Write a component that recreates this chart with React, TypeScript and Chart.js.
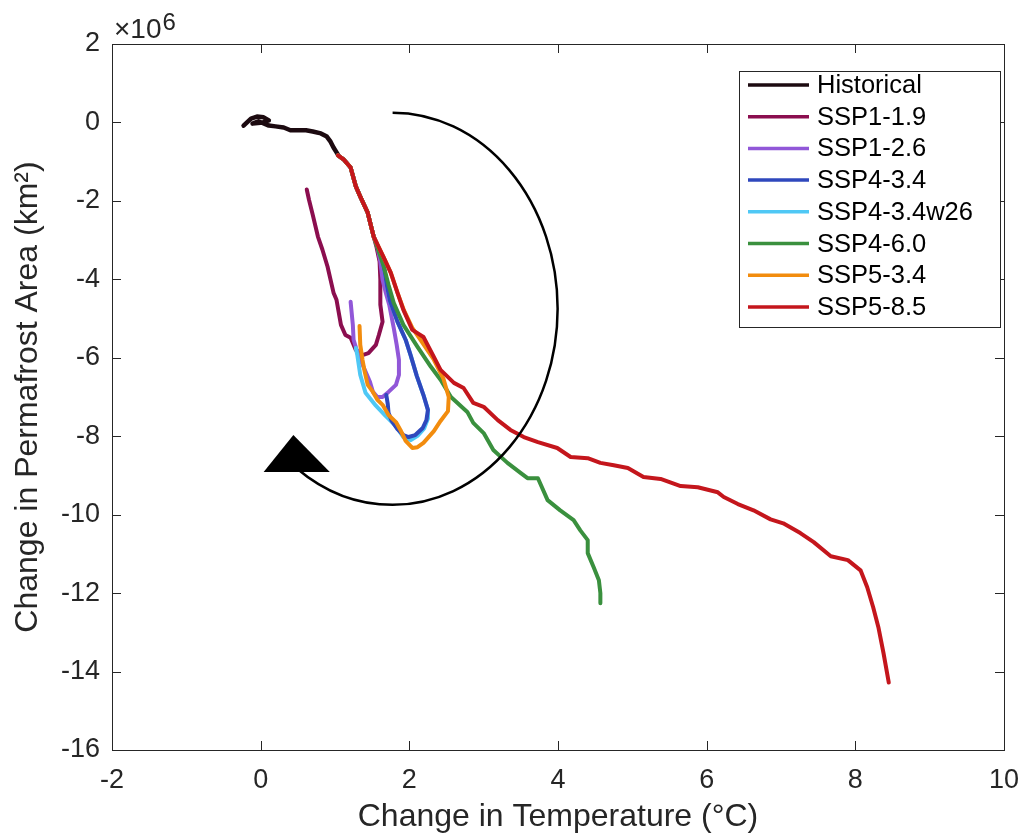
import React, { useEffect, useRef } from "react";
import { Chart, registerables } from "chart.js";

Chart.register(...registerables);

// ---------- Data (x: change in temperature °C, y: change in permafrost area ×10^6 km²) ----------
const seriesNames = [
  "Historical",
  "SSP1-1.9",
  "SSP1-2.6",
  "SSP4-3.4",
  "SSP4-3.4w26",
  "SSP4-6.0",
  "SSP5-3.4",
  "SSP5-8.5",
];
const seriesColors = [
  "#1c0a10",
  "#8b0e4f",
  "#9157d8",
  "#2f48bd",
  "#4fc8f5",
  "#3a903e",
  "#f28c0e",
  "#c4161c",
];

const historicalT = [-0.23, -0.13, -0.05, 0.04, 0.11, 0.03, -0.11, -0.03, 0.11, 0.2, 0.31, 0.4, 0.51, 0.61, 0.7, 0.81, 0.89, 0.94, 0.98, 1.04];
const historicalA = [-0.08, 0.1, 0.15, 0.13, 0.05, 0.0, -0.03, 0.03, -0.08, -0.1, -0.13, -0.2, -0.2, -0.2, -0.23, -0.28, -0.36, -0.49, -0.64, -0.82];

// common early part of every scenario (starts where Historical ends)
const commonT = [1.04, 1.12, 1.21, 1.28, 1.34, 1.44, 1.52];
const commonA = [-0.84, -0.95, -1.15, -1.63, -1.89, -2.3, -2.91];

const ssp119T = [1.56, 1.6, 1.61, 1.61, 1.64, 1.59, 1.55, 1.45, 1.37, 1.28, 1.21, 1.14, 1.08, 1.02, 0.98, 0.9, 0.83, 0.77, 0.7, 0.65, 0.62];
const ssp119A = [-3.19, -3.55, -4.01, -4.65, -5.08, -5.42, -5.67, -5.88, -5.93, -5.8, -5.49, -5.42, -5.16, -4.52, -4.34, -3.68, -3.24, -2.91, -2.35, -1.97, -1.71];

const ssp126T = [1.57, 1.61, 1.64, 1.68, 1.73, 1.79, 1.83, 1.86, 1.86, 1.82, 1.72, 1.64, 1.57, 1.51, 1.47, 1.39, 1.3, 1.25, 1.24, 1.21];
const ssp126A = [-3.17, -3.55, -4.01, -4.32, -4.65, -5.24, -5.67, -6.05, -6.44, -6.69, -6.87, -7.0, -7.0, -6.87, -6.61, -6.26, -5.85, -5.54, -5.16, -4.57];

const ssp434T = [1.57, 1.63, 1.67, 1.7, 1.74, 1.84, 1.95, 2.02, 2.1, 2.19, 2.25, 2.23, 2.18, 2.08, 1.99, 1.92, 1.84, 1.76, 1.72, 1.71, 1.69];
const ssp434A = [-3.12, -3.45, -3.81, -4.17, -4.55, -5.08, -5.54, -5.95, -6.46, -6.95, -7.33, -7.59, -7.79, -7.97, -8.02, -7.97, -7.82, -7.6, -7.4, -7.18, -6.95];

const ssp434w26T = [1.57, 1.63, 1.67, 1.7, 1.74, 1.84, 1.95, 2.02, 2.1, 2.19, 2.25, 2.25, 2.2, 2.11, 2.02, 1.92, 1.82, 1.68, 1.55, 1.41, 1.34, 1.3, 1.28];
const ssp434w26A = [-3.12, -3.45, -3.81, -4.17, -4.55, -5.08, -5.54, -5.95, -6.46, -6.95, -7.33, -7.55, -7.8, -7.99, -8.1, -8.02, -7.74, -7.48, -7.22, -6.89, -6.44, -5.93, -5.75];

const ssp460T = [1.65, 1.72, 1.79, 1.92, 2.11, 2.29, 2.42, 2.56, 2.78, 2.86, 3.0, 3.13, 3.32, 3.5, 3.59, 3.73, 3.86, 4.03, 4.21, 4.3, 4.4, 4.4, 4.48, 4.55, 4.57, 4.57];
const ssp460A = [-3.63, -4.14, -4.6, -5.16, -5.72, -6.23, -6.56, -7.0, -7.38, -7.66, -7.92, -8.35, -8.68, -8.94, -9.07, -9.07, -9.63, -9.89, -10.14, -10.4, -10.65, -10.98, -11.34, -11.67, -12.0, -12.26];

const ssp534T = [1.65, 1.75, 1.84, 1.93, 2.04, 2.15, 2.33, 2.46, 2.53, 2.52, 2.42, 2.33, 2.19, 2.11, 2.04, 1.95, 1.88, 1.82, 1.72, 1.64, 1.57, 1.51, 1.44, 1.4, 1.37, 1.34, 1.33];
const ssp534A = [-3.42, -3.83, -4.34, -4.8, -5.24, -5.54, -6.05, -6.54, -7.0, -7.36, -7.61, -7.87, -8.17, -8.28, -8.3, -8.12, -7.84, -7.64, -7.46, -7.2, -7.07, -6.87, -6.69, -6.36, -6.05, -5.67, -5.19];

const ssp585T = [1.65, 1.75, 1.84, 1.92, 2.04, 2.19, 2.33, 2.42, 2.6, 2.73, 2.86, 3.0, 3.19, 3.36, 3.54, 3.73, 3.99, 4.17, 4.4, 4.57, 4.75, 4.94, 5.15, 5.38, 5.65, 5.88, 6.15, 6.23, 6.42, 6.63, 6.86, 7.03, 7.26, 7.44, 7.67, 7.9, 8.07, 8.16, 8.24, 8.31, 8.38, 8.45];
const ssp585A = [-3.42, -3.83, -4.34, -4.78, -5.29, -5.47, -5.98, -6.31, -6.64, -6.77, -7.15, -7.25, -7.59, -7.84, -8.02, -8.15, -8.3, -8.53, -8.56, -8.68, -8.74, -8.81, -9.04, -9.09, -9.27, -9.3, -9.43, -9.55, -9.73, -9.89, -10.12, -10.22, -10.47, -10.7, -11.06, -11.16, -11.42, -11.85, -12.36, -12.87, -13.54, -14.28];

const xTicks = [-2, 0, 2, 4, 6, 8, 10];
const yTicks = [-16, -14, -12, -10, -8, -6, -4, -2, 0, 2];
const xLabel = "Change in Temperature (°C)";
const yLabel = "Change in Permafrost Area (km²)";

// circular arrow annotation (in data units)
const arcCenter = [1.775, -4.75];
const arcRadii = [2.22, 5.0];
const arcAngles = [-90, 125.6];
const arrowHead = [
  [0.04, -8.91],
  [0.93, -8.91],
  [0.44, -7.97],
];

// drawing rank (higher = on top)
const drawRank = [0, 1, 2, 4, 3, 5, 6, 7];

const FONT = "'Liberation Sans', Arial, Helvetica, sans-serif";
const AXIS_COLOR = "#262626";

function pts(t: number[], a: number[]) {
  return t.map((v, i) => ({ x: v, y: a[i] }));
}

const seriesPoints = [
  pts(historicalT, historicalA),
  pts([...commonT, ...ssp119T], [...commonA, ...ssp119A]),
  pts([...commonT, ...ssp126T], [...commonA, ...ssp126A]),
  pts([...commonT, ...ssp434T], [...commonA, ...ssp434A]),
  pts([...commonT, ...ssp434w26T], [...commonA, ...ssp434w26A]),
  pts([...commonT, ...ssp460T], [...commonA, ...ssp460A]),
  pts([...commonT, ...ssp534T], [...commonA, ...ssp534A]),
  pts([...commonT, ...ssp585T], [...commonA, ...ssp585A]),
];

const overlayPlugin = {
  id: "overlay",
  afterDatasetsDraw(chart: any) {
    const { ctx, scales } = chart;
    const x = scales.x;
    const y = scales.y;
    const cx = x.getPixelForValue(arcCenter[0]);
    const cy = y.getPixelForValue(arcCenter[1]);
    const rx = x.getPixelForValue(arcCenter[0] + arcRadii[0]) - cx;
    const ry = y.getPixelForValue(arcCenter[1] - arcRadii[1]) - cy;
    ctx.save();
    ctx.beginPath();
    ctx.ellipse(cx, cy, rx, ry, 0, (arcAngles[0] * Math.PI) / 180, (arcAngles[1] * Math.PI) / 180, false);
    ctx.lineWidth = 2.5;
    ctx.strokeStyle = "#000";
    ctx.stroke();
    ctx.beginPath();
    arrowHead.forEach(([t, a], i) => {
      const px = x.getPixelForValue(t);
      const py = y.getPixelForValue(a);
      if (i === 0) ctx.moveTo(px, py);
      else ctx.lineTo(px, py);
    });
    ctx.closePath();
    ctx.fillStyle = "#000";
    ctx.fill();
    ctx.restore();
  },
  afterDraw(chart: any) {
    const { ctx, chartArea, scales } = chart;
    const { left, right, top, bottom } = chartArea;
    const x = scales.x;
    const y = scales.y;
    ctx.save();
    // box
    ctx.strokeStyle = AXIS_COLOR;
    ctx.lineWidth = 1;
    ctx.strokeRect(Math.round(left) + 0.5, Math.round(top) + 0.5, Math.round(right - left), Math.round(bottom - top));
    // inward ticks
    const tl = 9;
    ctx.beginPath();
    xTicks.forEach((v) => {
      const px = Math.round(x.getPixelForValue(v)) + 0.5;
      ctx.moveTo(px, bottom);
      ctx.lineTo(px, bottom - tl);
      ctx.moveTo(px, top);
      ctx.lineTo(px, top + tl);
    });
    yTicks.forEach((v) => {
      const py = Math.round(y.getPixelForValue(v)) + 0.5;
      ctx.moveTo(left, py);
      ctx.lineTo(left + tl, py);
      ctx.moveTo(right, py);
      ctx.lineTo(right - tl, py);
    });
    ctx.stroke();

    // exponent label
    ctx.fillStyle = AXIS_COLOR;
    ctx.textBaseline = "alphabetic";
    ctx.textAlign = "left";
    ctx.font = `28px ${FONT}`;
    ctx.fillText("×10", left + 2, top - 6);
    const w = ctx.measureText("×10").width;
    ctx.font = `24px ${FONT}`;
    ctx.fillText("6", left + 2 + w + 1, top - 14);

    // legend
    const lx0 = right - 265;
    const ly0 = top + 27;
    const lw = 261;
    const lh = 256;
    ctx.fillStyle = "#fff";
    ctx.fillRect(lx0, ly0, lw, lh);
    ctx.strokeStyle = AXIS_COLOR;
    ctx.lineWidth = 1;
    ctx.strokeRect(Math.round(lx0) + 0.5, Math.round(ly0) + 0.5, lw, lh);
    ctx.font = `25.5px ${FONT}`;
    ctx.textBaseline = "middle";
    chart.data.datasets.forEach((ds: any, i: number) => {
      const cyRow = ly0 + 14 + i * 31.7;
      ctx.beginPath();
      ctx.moveTo(lx0 + 9, cyRow);
      ctx.lineTo(lx0 + 70, cyRow);
      ctx.strokeStyle = ds.borderColor;
      ctx.lineWidth = 3.5;
      ctx.stroke();
      ctx.fillStyle = "#000";
      ctx.fillText(ds.label, lx0 + 78, cyRow + 1);
    });
    ctx.restore();
  },
};

export default function App() {
  const canvasRef = useRef<HTMLCanvasElement | null>(null);

  useEffect(() => {
    if (!canvasRef.current) return;
    const datasets = seriesNames.map((name, i) => ({
      label: name,
      data: seriesPoints[i],
      borderColor: seriesColors[i],
      backgroundColor: seriesColors[i],
      borderWidth: i === 0 ? 4.5 : 4,
      pointRadius: 0,
      showLine: true,
      tension: 0,
      borderJoinStyle: "round" as const,
      borderCapStyle: "round" as const,
      order: 7 - drawRank[i],
    }));
    const chart = new Chart(canvasRef.current, {
      type: "scatter",
      data: { datasets },
      options: {
        animation: false,
        responsive: true,
        maintainAspectRatio: false,
        layout: { padding: { left: 0, top: 44, right: 19, bottom: 0 } },
        plugins: {
          legend: { display: false },
          tooltip: { enabled: false },
        },
        scales: {
          x: {
            type: "linear",
            min: -2,
            max: 10,
            afterFit: (s: any) => {
              s.height = 86;
              s.paddingLeft = 0;
              s.paddingRight = 0;
            },
            afterBuildTicks: (s: any) => {
              s.ticks = xTicks.map((v) => ({ value: v }));
            },
            grid: { display: false, drawTicks: false },
            border: { display: false },
            ticks: {
              color: AXIS_COLOR,
              font: { family: FONT, size: 27 },
              padding: 14,
              maxRotation: 0,
              callback: (v: any) => String(v),
            },
            title: {
              display: true,
              text: xLabel,
              color: AXIS_COLOR,
              font: { family: FONT, size: 32 },
              padding: { top: 0, bottom: 0 },
            },
          },
          y: {
            type: "linear",
            min: -16,
            max: 2,
            afterFit: (s: any) => {
              s.width = 112;
              s.paddingTop = 0;
              s.paddingBottom = 0;
            },
            afterBuildTicks: (s: any) => {
              s.ticks = yTicks.map((v) => ({ value: v }));
            },
            grid: { display: false, drawTicks: false },
            border: { display: false },
            ticks: {
              color: AXIS_COLOR,
              font: { family: FONT, size: 27 },
              padding: 12,
              callback: (v: any) => String(v),
            },
            title: {
              display: true,
              text: yLabel,
              color: AXIS_COLOR,
              font: { family: FONT, size: 32 },
              padding: { top: 9, bottom: 0 },
            },
          },
        },
      },
      plugins: [overlayPlugin],
    });
    return () => chart.destroy();
  }, []);

  return (
    <div style={{ position: "fixed", left: 0, top: 0, width: 1023, height: 836, background: "#fff" }}>
      <canvas ref={canvasRef} />
    </div>
  );
}
